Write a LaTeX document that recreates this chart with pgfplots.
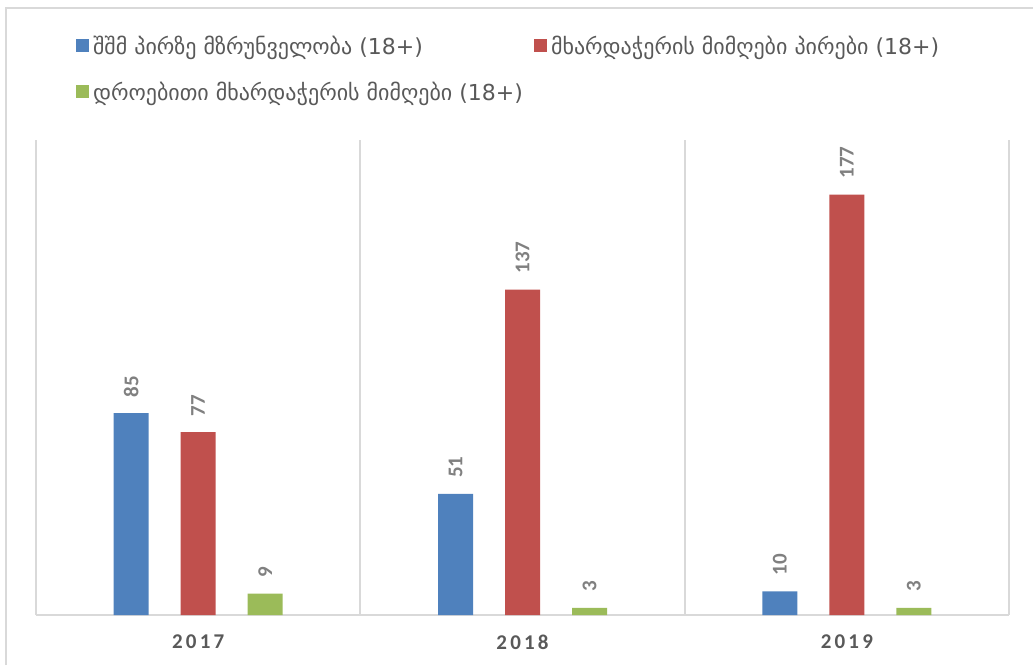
\documentclass[border=0pt]{standalone}
\usepackage{fontspec}
\setmainfont{Carlito}
\newfontfamily\geo{DejaVu Sans}
\usepackage{pgfplots}
\pgfplotsset{compat=1.18}
\definecolor{cblue}{HTML}{4F81BD}
\definecolor{cred}{HTML}{C0504D}
\definecolor{cgreen}{HTML}{9BBB59}
\definecolor{lblgray}{HTML}{808080}
\definecolor{yeargray}{HTML}{595959}
\definecolor{framegray}{HTML}{D9D9D9}
\begin{document}
\begin{tikzpicture}
\useasboundingbox (0,0) rectangle (516.5pt,332.5pt);
\draw[framegray, line width=1pt] (3pt,0) -- (3pt,328.5pt) -- (516.5pt,328.5pt);
\begin{axis}[
  at={(18pt,25pt)}, anchor=south west,
  scale only axis, width=486.5pt, height=237.5pt,
  xmin=-0.5, xmax=2.5, ymin=0, ymax=200,
  ybar, bar width=17.5pt,
  /pgf/number format/assume math mode=true,
  axis x line*=bottom, axis y line=none,
  x axis line style={framegray, line width=1pt},
  xtick={0,1,2},
  xticklabels={2\hspace{1.6pt}0\hspace{1.6pt}1\hspace{1.6pt}7,2\hspace{1.6pt}0\hspace{1.6pt}1\hspace{1.6pt}8,2\hspace{1.6pt}0\hspace{1.6pt}1\hspace{1.6pt}9},
  xticklabel style={font=\bfseries\fontsize{10.5}{12}\selectfont, text=yeargray, yshift=-6.5pt},
  major tick length=0pt,
  ytick=\empty,
  extra x ticks={-0.5,0.5,1.5,2.5},
  extra x tick labels={},
  extra x tick style={grid=major, major grid style={framegray, line width=1pt}},
  nodes near coords,
  every node near coord/.append style={rotate=90, anchor=west, inner sep=0pt, outer sep=8pt,
     font=\bfseries\fontsize{10.5}{12}\selectfont, text=lblgray},
  legend columns=2,
  legend image code/.code={\fill[#1] (0pt,-1pt) rectangle (6.5pt,5.5pt);},
  legend style={draw=none, fill=none, inner sep=0pt, outer sep=0pt,
    at={(0.0412,1)}, anchor=south west, yshift=17.5pt,
    /tikz/every odd column/.append style={column sep=2pt},
    /tikz/every even column/.append style={column sep=4.5pt},
    row sep=13pt,
    nodes={inner sep=0pt, text height=7pt, text depth=2pt, font=\geo\fontsize{11}{13}\selectfont, text=yeargray}},
]
\addplot[fill=cblue, draw=none, bar shift=-33.5pt] coordinates {(0,85) (1,51) (2,10)};
\addlegendentry{\makebox[216pt][l]{შშმ პირზე მზრუნველობა (18+)}}
\addplot[fill=cred, draw=none, bar shift=0pt] coordinates {(0,77) (1,137) (2,177)};
\addlegendentry{მხარდაჭერის მიმღები პირები (18+)}
\addplot[fill=cgreen, draw=none, bar shift=33.5pt] coordinates {(0,9) (1,3) (2,3)};
\addlegendentry{\makebox[216pt][l]{დროებითი მხარდაჭერის მიმღები (18+)}}
\end{axis}
\end{tikzpicture}
\end{document}
